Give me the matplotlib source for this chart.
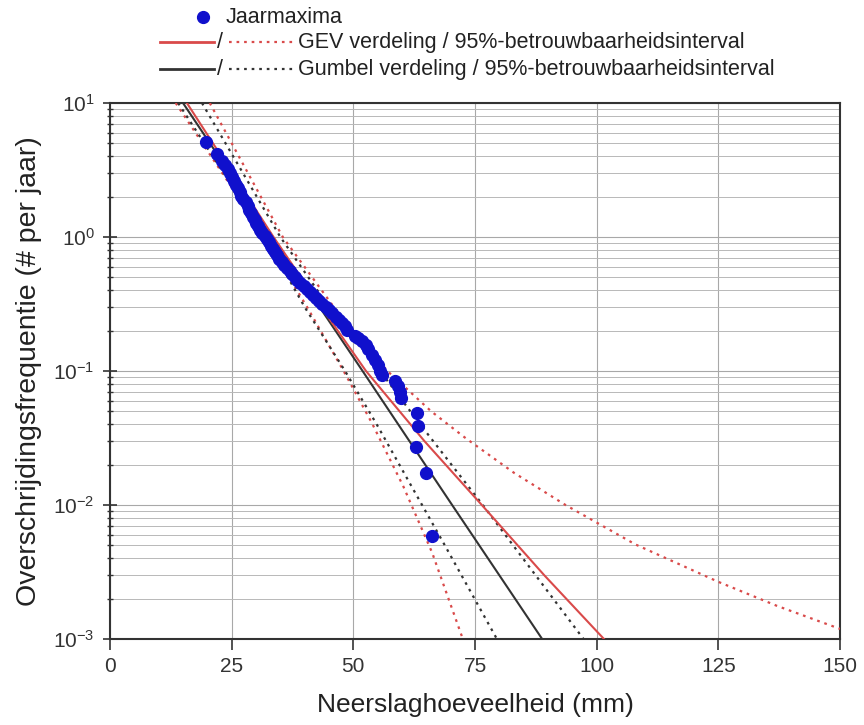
import matplotlib
matplotlib.use("Agg")
import matplotlib.pyplot as plt
from matplotlib.ticker import LogLocator, NullFormatter, MultipleLocator

plt.rcParams['font.family'] = ['Liberation Sans', 'DejaVu Sans']

# jaarmaxima: neerslag (mm) en overschrijdingsfrequentie (per jaar)
jm_x = [19.8, 22.0, 23.0, 23.6, 24.2, 24.6, 25.1, 25.5, 25.9, 26.3, 26.7, 27.0,
        27.4, 27.9, 28.3, 28.6, 29.0, 29.4, 29.8, 30.1, 30.5, 30.9, 31.3, 31.8,
        32.2, 32.6, 33.0, 33.5, 33.9, 34.3, 34.8, 35.3, 35.8, 36.3, 36.9, 37.4,
        38.0, 38.5, 39.1, 39.8, 40.4, 41.0, 41.7, 42.3, 43.0, 43.6, 44.3, 45.0,
        45.7, 46.4, 47.0, 47.6, 48.2, 48.8, 50.3, 51.0, 51.8, 52.5, 53.0, 53.8,
        54.5, 55.0, 55.4, 55.8, 58.6, 59.2, 59.6, 59.8, 63.0, 63.2, 62.9, 65.0,
        66.2]
jm_f = [5.15, 4.15, 3.70, 3.45, 3.20, 3.00, 2.80, 2.62, 2.46, 2.31, 2.17, 2.04,
        1.92, 1.81, 1.70, 1.60, 1.51, 1.42, 1.34, 1.27, 1.20, 1.13, 1.07, 1.01,
        0.96, 0.91, 0.86, 0.81, 0.77, 0.73, 0.69, 0.655, 0.62, 0.59, 0.56, 0.53,
        0.505, 0.48, 0.455, 0.43, 0.41, 0.39, 0.37, 0.35, 0.333, 0.316, 0.30, 0.285,
        0.27, 0.255, 0.24, 0.228, 0.215, 0.203, 0.183, 0.175, 0.167, 0.155, 0.145, 0.132,
        0.12, 0.11, 0.10, 0.093, 0.084, 0.077, 0.070, 0.063, 0.049, 0.039, 0.027, 0.0173,
        0.0059]

# GEV verdeling + 95%-interval
gev_f = [10, 1, 0.3, 0.1, 0.03, 0.01, 0.003, 0.001]
gev_x = [15.8, 33.6, 43.4, 52.6, 64.6, 76.4, 89.2, 101.5]
gev_lo_f = [10, 1, 0.3, 0.1, 0.041, 0.0137, 0.0044, 0.001]
gev_lo_x = [13.5, 31.8, 40.5, 48.0, 53.8, 60.3, 66.2, 72.5]
gev_hi_f = [10, 1, 0.3, 0.1, 0.05, 0.0315, 0.0174, 0.01, 0.00507, 0.00267,
            0.00177, 0.00119]
gev_hi_x = [20.5, 35.5, 46.0, 57.0, 66.0, 73.1, 83.0, 93.6, 108.0, 125.0,
            137.0, 150.0]

# Gumbel verdeling + 95%-interval
gum_f = [10, 1, 0.1, 0.01, 0.001]
gum_x = [15.0, 33.4, 51.9, 70.3, 88.8]
gum_lo_f = [10, 1, 0.3, 0.1, 0.04, 0.0137, 0.005, 0.001]
gum_lo_x = [14.0, 31.9, 40.0, 48.3, 54.8, 62.0, 68.8, 79.5]
gum_hi_f = [10, 1, 0.3, 0.1, 0.041, 0.01, 0.001]
gum_hi_x = [18.9, 35.0, 45.0, 55.5, 63.5, 76.6, 97.3]

red = '#d94a4a'
blk = '#333333'
blue = '#1010cc'
dots = (0, (1.2, 2.2))

fig = plt.figure(figsize=(8.64, 7.25), dpi=100)
ax = fig.add_axes([110/864, 1-639/725, 730/864, 536/725])

ax.plot(gev_lo_x, gev_lo_f, color=red, lw=1.6, ls=dots, zorder=3)
ax.plot(gev_hi_x, gev_hi_f, color=red, lw=1.6, ls=dots, zorder=3)
ax.plot(gum_lo_x, gum_lo_f, color=blk, lw=1.6, ls=dots, zorder=3)
ax.plot(gum_hi_x, gum_hi_f, color=blk, lw=1.6, ls=dots, zorder=3)
ax.plot(gum_x, gum_f, color=blk, lw=1.5, zorder=3)
ax.plot(gev_x, gev_f, color=red, lw=1.5, zorder=3)
ax.plot(jm_x, jm_f, 'o', color=blue, ms=8.5, mec=blue, zorder=4)

ax.set_yscale('log')
ax.set_xlim(0, 150)
ax.set_ylim(1e-3, 1e1)
ax.xaxis.set_major_locator(MultipleLocator(25))
ax.yaxis.set_major_locator(LogLocator(base=10, numticks=10))
ax.yaxis.set_minor_locator(LogLocator(base=10, subs=range(2, 10), numticks=20))
ax.yaxis.set_minor_formatter(NullFormatter())
ax.grid(True, which='major', axis='both', color='#a8a8a8', lw=0.8)
ax.grid(True, which='minor', axis='y', color='#b8b8b8', lw=0.7)
ax.set_axisbelow(True)
for s in ax.spines.values():
    s.set_color('#333333')
    s.set_linewidth(1.5)
ax.tick_params(axis='x', which='major', direction='out', length=8, width=1.2,
               labelsize=15, colors='#333333', pad=5)
ax.tick_params(axis='y', which='major', direction='inout', length=10, width=1.2,
               labelsize=15, colors='#333333', pad=6)
ax.tick_params(axis='y', which='minor', direction='inout', length=5, width=1.0,
               colors='#333333')
ax.set_xlabel('Neerslaghoeveelheid (mm)', fontsize=19, color='#222222', labelpad=12)
ax.set_ylabel('Overschrijdingsfrequentie (# per jaar)', fontsize=20.5,
              color='#222222', labelpad=8)

# legenda boven de grafiek, in pixelcoordinaten
lg = fig.add_axes([0, 0, 1, 1], zorder=5)
lg.set_xlim(0, 864)
lg.set_ylim(725, 0)
lg.axis('off')
lg.patch.set_visible(False)
fs = 15.5
lg.plot([203], [17], 'o', color=blue, ms=8.5)
lg.text(226, 17, 'Jaarmaxima', fontsize=fs, va='center', color='#222222')
for y, c, lab in [(42, red, 'GEV verdeling / 95%-betrouwbaarheidsinterval'),
                  (69, blk, 'Gumbel verdeling / 95%-betrouwbaarheidsinterval')]:
    lg.plot([160, 214], [y, y], color=c, lw=2)
    lg.text(220, y, '/', fontsize=fs, va='center', ha='center', color='#222222')
    lg.plot([229, 294], [y, y], color=c, lw=1.6, ls=dots)
    lg.text(298, y, lab, fontsize=fs, va='center', color='#222222')

fig.savefig('out.png', dpi=100)
